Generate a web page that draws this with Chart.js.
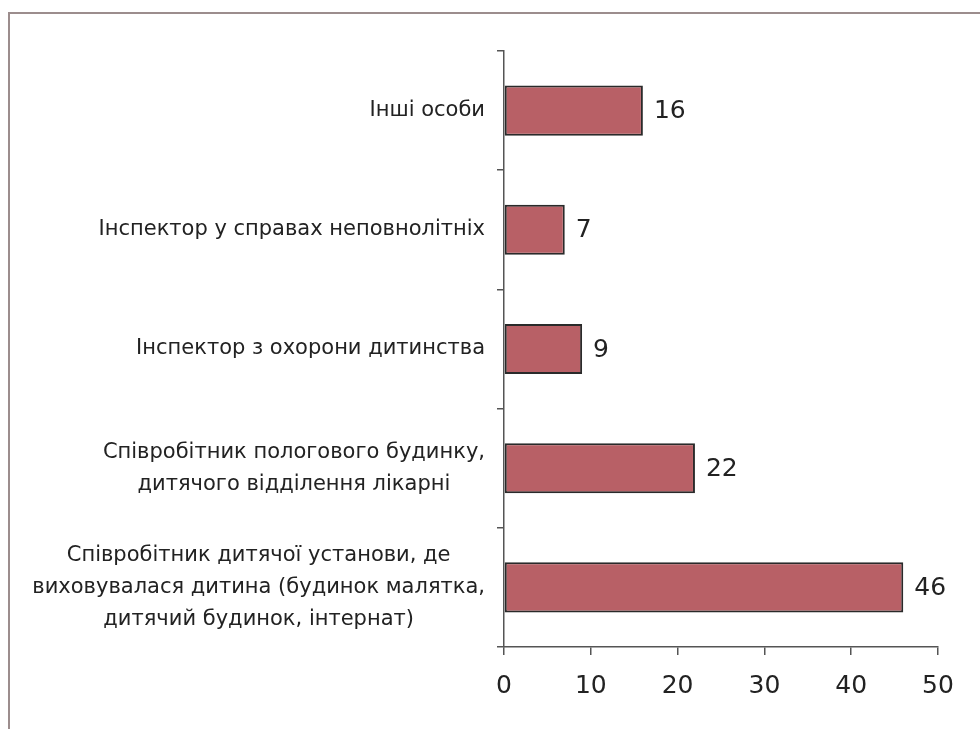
<!DOCTYPE html>
<html>
<head>
<meta charset="utf-8">
<script src="https://cdn.jsdelivr.net/npm/chart.js@4.4.0/dist/chart.umd.min.js"></script>
<style>
  html, body { margin: 0; padding: 0; background: #ffffff; }
  #wrap { position: relative; width: 980px; height: 729px; overflow: hidden; }
  #frame { position: absolute; left: 8px; top: 12px; width: 1000px; height: 800px;
           border-left: 2px solid #9c8d8d; border-top: 2px solid #9c8d8d; box-sizing: border-box; }
  canvas { position: absolute; left: 0; top: 0; }
</style>
</head>
<body>
<div id="wrap">
  <div id="frame"></div>
  <canvas id="c" width="980" height="729"></canvas>
</div>
<script>
const categories = [
  ["Інші особи"],
  ["Інспектор у справах неповнолітніх"],
  ["Інспектор з охорони дитинства"],
  ["Співробітник пологового будинку,", "дитячого відділення лікарні"],
  ["Співробітник дитячої установи, де", "виховувалася дитина (будинок малятка,", "дитячий будинок, інтернат)"]
];
const values = [16, 7, 9, 22, 46];
const xTicks = [0, 10, 20, 30, 40, 50];

const labelFont = '21px "DejaVu Sans"';
const numFont = '25px "DejaVu Sans"';
const textColor = '#222222';
const axisColor = '#555555';

const yLabelPlugin = {
  id: 'yLabels',
  afterDraw(chart) {
    const ctx = chart.ctx;
    const scale = chart.scales.y;
    const right = chart.chartArea.left - 19;
    const lh = 32;
    ctx.save();
    ctx.font = labelFont;
    ctx.fillStyle = textColor;
    ctx.textAlign = 'center';
    ctx.textBaseline = 'middle';
    categories.forEach((lines, i) => {
      const y = scale.getPixelForTick(i);
      const w = Math.max(...lines.map(l => ctx.measureText(l).width));
      const cx = right - w / 2;
      const y0 = y - (lines.length - 1) * lh / 2;
      lines.forEach((l, j) => ctx.fillText(l, cx, y0 + j * lh));
    });
    ctx.restore();
  }
};

const valueLabelPlugin = {
  id: 'valueLabels',
  afterDatasetsDraw(chart) {
    const ctx = chart.ctx;
    const meta = chart.getDatasetMeta(0);
    ctx.save();
    ctx.font = numFont;
    ctx.fillStyle = textColor;
    ctx.textAlign = 'left';
    ctx.textBaseline = 'middle';
    meta.data.forEach((bar, i) => {
      ctx.fillText(String(values[i]), bar.x + 11, bar.y + 1);
    });
    ctx.restore();
  }
};

new Chart(document.getElementById('c'), {
  type: 'bar',
  data: {
    labels: categories,
    datasets: [{
      data: values,
      backgroundColor: '#b86066',
      borderColor: '#2a2a2a',
      borderWidth: 2,
      borderSkipped: false,
      categoryPercentage: 1,
      barPercentage: 0.42
    }]
  },
  options: {
    indexAxis: 'y',
    responsive: false,
    animation: false,
    devicePixelRatio: 1,
    layout: { padding: { left: 0, top: 51, right: 42, bottom: 0 } },
    plugins: { legend: { display: false }, tooltip: { enabled: false } },
    scales: {
      y: {
        type: 'category',
        offset: true,
        ticks: { display: false },
        grid: { display: true, offset: true, drawOnChartArea: false, tickLength: 7, color: axisColor, lineWidth: 1.5 },
        border: { display: true, color: axisColor, width: 1.5 },
        afterFit(s) { s.width = 504; }
      },
      x: {
        min: 0, max: 50,
        afterBuildTicks(s) { s.ticks = xTicks.map(v => ({ value: v })); },
        ticks: { font: { family: 'DejaVu Sans', size: 25 }, color: textColor, padding: 16 },
        grid: { display: true, drawOnChartArea: false, tickLength: 8, color: axisColor, lineWidth: 1.5 },
        border: { display: true, color: axisColor, width: 1.5 },
        afterFit(s) { s.height = 82; }
      }
    }
  },
  plugins: [yLabelPlugin, valueLabelPlugin]
});
</script>
</body>
</html>
